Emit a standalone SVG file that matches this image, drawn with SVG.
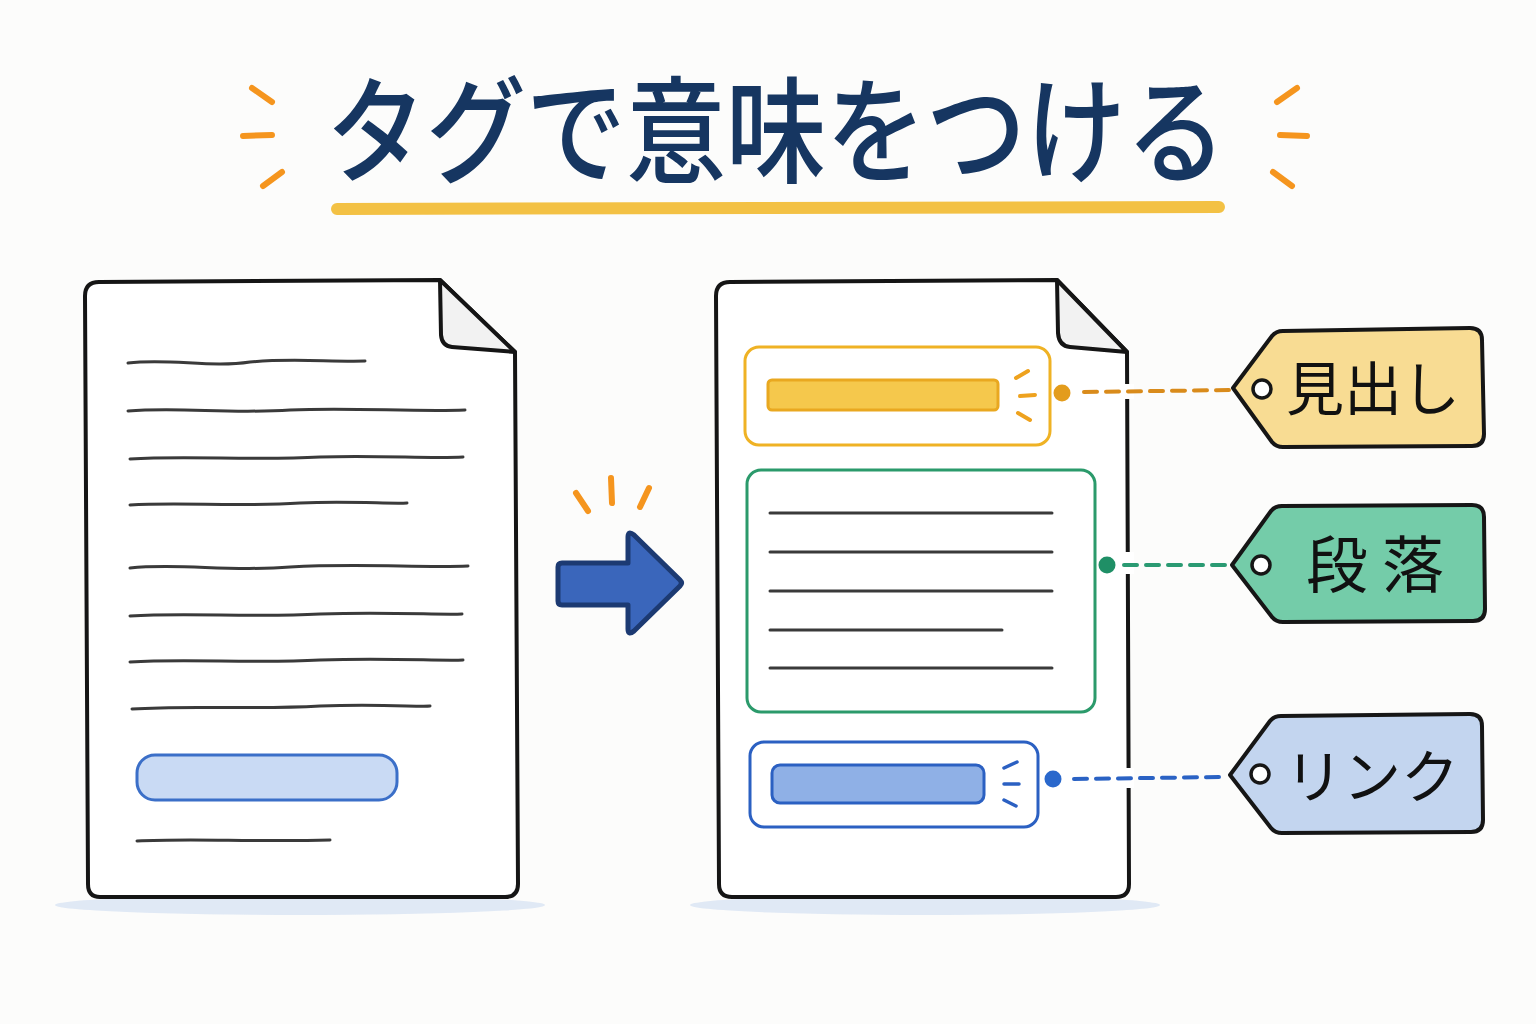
<svg xmlns="http://www.w3.org/2000/svg" width="1536" height="1024" viewBox="0 0 1536 1024">
<defs>
<style>
.spark{stroke:#f5951e;stroke-width:6;stroke-linecap:round;fill:none}
.doc{fill:#ffffff;stroke:#151515;stroke-width:4;stroke-linejoin:round}
.fold{fill:#f2f2f2;stroke:#151515;stroke-width:4;stroke-linejoin:round}
.txtline{stroke:#3a3a3a;stroke-width:3;stroke-linecap:round;fill:none}
.tag{stroke:#161616;stroke-width:4;stroke-linejoin:round}
.hole{fill:#ffffff;stroke:#161616;stroke-width:3.5}
.tagtext{font-family:"Noto Sans CJK JP","Noto Sans",sans-serif;font-weight:400;fill:#111;text-anchor:middle}
.dash{stroke-width:4;stroke-dasharray:13 9;stroke-linecap:round;fill:none}
.shadow{fill:#c9d9f0;opacity:0.55}
</style>
</defs>
<rect x="0" y="0" width="1536" height="1024" fill="#fcfcfb"/>

<g id="title">
<text transform="translate(776,174) scale(1,1.16)" x="0" y="0" font-family="'Noto Sans CJK JP','Noto Sans',sans-serif" font-weight="500" font-size="100" letter-spacing="0" fill="#163661" text-anchor="middle">タグで意味をつける</text>
<line x1="337" y1="209" x2="1219" y2="207" stroke="#f3c144" stroke-width="12" stroke-linecap="round"/>
<line class="spark" x1="252" y1="88" x2="272" y2="102"/>
<line class="spark" x1="243" y1="136" x2="272" y2="135"/>
<line class="spark" x1="263" y1="186" x2="282" y2="172"/>
<line class="spark" x1="1297" y1="88" x2="1277" y2="102"/>
<line class="spark" x1="1280" y1="135" x2="1307" y2="136"/>
<line class="spark" x1="1273" y1="172" x2="1292" y2="186"/>
</g>

<g id="doc-plain">
<ellipse class="shadow" cx="300" cy="905" rx="245" ry="10"/>
<path class="doc" d="M85,296 Q85,282 99,282 L440,280 L515,352 L518,884 Q518,897 505,897 L100,897 Q88,897 88,884 Z"/>
<path class="fold" d="M440,280 L441,335 Q442,346 452,347 L515,352 Z"/>
<path class="txtline" d="M128,363 C170,358 210,368 250,362 C290,358 330,362 365,361"/>
<path class="txtline" d="M128,411 C180,407 230,414 290,410 C350,407 410,412 465,410"/>
<path class="txtline" d="M130,459 C190,455 250,461 320,457 C380,455 430,459 463,457"/>
<path class="txtline" d="M130,505 C180,502 240,507 300,503 C350,501 390,504 407,503"/>
<path class="txtline" d="M130,568 C180,563 230,572 290,567 C360,563 420,568 468,566"/>
<path class="txtline" d="M130,616 C190,612 250,618 320,614 C390,612 440,615 462,614"/>
<path class="txtline" d="M130,662 C190,658 250,664 320,660 C390,658 440,661 463,660"/>
<path class="txtline" d="M132,709 C190,705 250,710 320,706 C380,704 420,707 430,706"/>
<rect x="137" y="755" width="260" height="45" rx="18" fill="#c9daf4" stroke="#3b6fc8" stroke-width="3"/>
<path class="txtline" d="M137,841 C190,838 250,842 330,840"/>
</g>

<g id="arrow">
<line class="spark" x1="576" y1="493" x2="588" y2="511"/>
<line class="spark" x1="611" y1="478" x2="612" y2="503"/>
<line class="spark" x1="649" y1="488" x2="640" y2="507"/>
<path d="M558,567 Q558,563 562,563 L628,563 L628,537 Q628,530 634,535 L680,580 Q683,583 680,586 L634,631 Q628,636 628,629 L628,605 L562,605 Q558,605 558,601 Z" fill="#3a66bb" stroke="#1c3a72" stroke-width="5" stroke-linejoin="round"/>
</g>

<g id="doc-tagged">
<ellipse class="shadow" cx="925" cy="905" rx="235" ry="10"/>
<path class="doc" d="M716,296 Q716,282 730,282 L1057,280 L1127,352 L1129,884 Q1129,897 1116,897 L732,897 Q719,897 719,884 Z"/>
<path class="fold" d="M1057,280 L1058,333 Q1059,346 1070,347 L1127,352 Z"/>
<rect x="1122" y="384" width="12" height="15" fill="#ffffff"/>
<rect x="1122" y="552" width="12" height="22" fill="#ffffff"/>
<rect x="1122" y="768" width="12" height="20" fill="#ffffff"/>
</g>

<g id="box-heading">
<rect x="745" y="347" width="305" height="98" rx="14" fill="#ffffff" stroke="#efb224" stroke-width="3"/>
<rect x="768" y="380" width="230" height="30" rx="4" fill="#f5c84c" stroke="#e9a820" stroke-width="3"/>
<line x1="1016" y1="378" x2="1028" y2="371" stroke="#eea21e" stroke-width="4" stroke-linecap="round"/>
<line x1="1020" y1="396" x2="1035" y2="395" stroke="#eea21e" stroke-width="4" stroke-linecap="round"/>
<line x1="1018" y1="413" x2="1030" y2="420" stroke="#eea21e" stroke-width="4" stroke-linecap="round"/>
</g>

<g id="box-paragraph">
<rect x="747" y="470" width="348" height="242" rx="14" fill="#ffffff" stroke="#2b9a6b" stroke-width="3"/>
<line class="txtline" x1="770" y1="513" x2="1052" y2="513"/>
<line class="txtline" x1="770" y1="552" x2="1052" y2="552"/>
<line class="txtline" x1="770" y1="591" x2="1052" y2="591"/>
<line class="txtline" x1="770" y1="630" x2="1002" y2="630"/>
<line class="txtline" x1="770" y1="668" x2="1052" y2="668"/>
</g>

<g id="box-link">
<rect x="750" y="742" width="288" height="85" rx="14" fill="#ffffff" stroke="#2b60c2" stroke-width="3"/>
<rect x="772" y="765" width="212" height="38" rx="8" fill="#8fb0e6" stroke="#2b60c2" stroke-width="3"/>
<line x1="1004" y1="768" x2="1017" y2="762" stroke="#2b60c2" stroke-width="3.5" stroke-linecap="round"/>
<line x1="1004" y1="784" x2="1019" y2="784" stroke="#2b60c2" stroke-width="3.5" stroke-linecap="round"/>
<line x1="1004" y1="800" x2="1016" y2="806" stroke="#2b60c2" stroke-width="3.5" stroke-linecap="round"/>
</g>

<g id="connectors">
<circle cx="1062" cy="393" r="8.5" fill="#e39c1c"/>
<line class="dash" x1="1084" y1="392" x2="1232" y2="390" stroke="#d98b1b"/>
<circle cx="1107" cy="565" r="8.5" fill="#1f8f66"/>
<line class="dash" x1="1124" y1="565" x2="1230" y2="565" stroke="#2a9a72"/>
<circle cx="1053" cy="779" r="8.5" fill="#2a68cc"/>
<line class="dash" x1="1074" y1="779" x2="1222" y2="777" stroke="#2a62c4"/>
</g>

<g id="tag-heading">
<path class="tag" fill="#f8dc93" d="M1233,388 L1272,336 Q1276,331 1283,331 L1470,328 Q1482,328 1482,340 L1484,434 Q1484,446 1472,446 L1283,447 Q1276,447 1272,442 Z"/>
<circle class="hole" cx="1262" cy="389" r="9"/>
<text class="tagtext" x="1373" y="410" font-size="58">見出し</text>
</g>

<g id="tag-paragraph">
<path class="tag" fill="#74cca9" d="M1232,565 L1271,511 Q1275,506 1282,506 L1472,505 Q1484,505 1484,517 L1485,609 Q1485,621 1473,621 L1283,622 Q1276,622 1272,617 Z"/>
<circle class="hole" cx="1261" cy="565" r="9"/>
<text class="tagtext" x="1382" y="588" font-size="62" letter-spacing="14">段落</text>
</g>

<g id="tag-link">
<path class="tag" fill="#c3d5ef" stroke="#1b2e5c" d="M1230,775 L1270,721 Q1274,716 1281,716 L1470,714 Q1482,714 1482,726 L1483,820 Q1483,832 1471,832 L1282,833 Q1275,833 1271,828 Z"/>
<circle class="hole" cx="1260" cy="774" r="9"/>
<text class="tagtext" x="1372" y="798" font-size="58">リンク</text>
</g>
</svg>
